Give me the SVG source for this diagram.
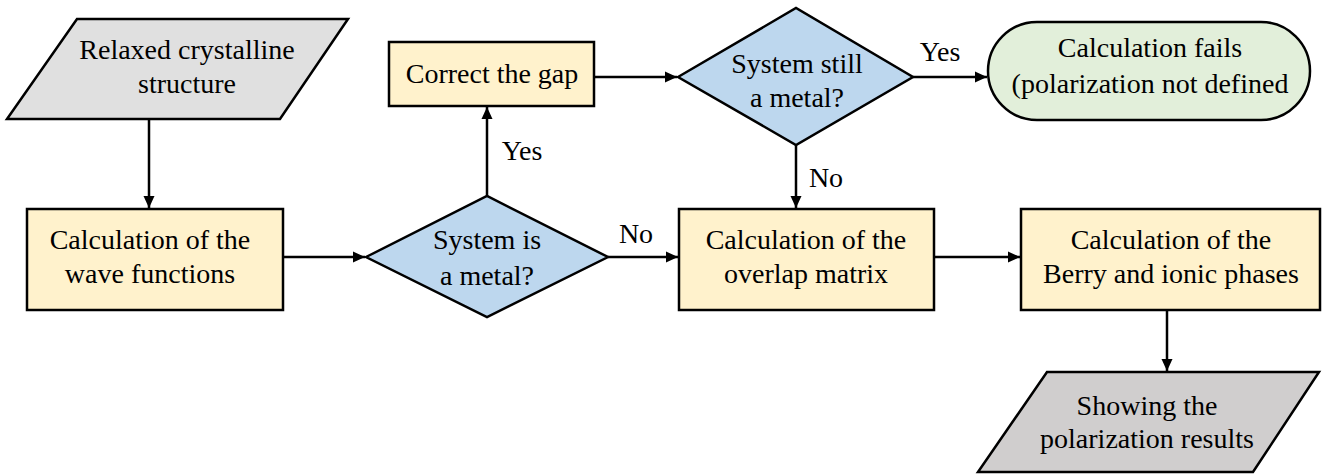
<svg xmlns="http://www.w3.org/2000/svg" width="1325" height="474" viewBox="0 0 1325 474">
<defs>
<marker id="ah" markerWidth="12" markerHeight="12" refX="12" refY="6" orient="auto" markerUnits="userSpaceOnUse" viewBox="0 0 12 12">
<path d="M0,0.5 L12,6 L0,11.5 z" fill="#000"/>
</marker>
<style>
.box{fill:#fff2cc;stroke:#000;stroke-width:2.5}
.dia{fill:#bdd7ee;stroke:#000;stroke-width:2.5}
.term{fill:#e2efda;stroke:#000;stroke-width:2.5}
.io1{fill:#e0e0e0;stroke:#000;stroke-width:2.5}
.io2{fill:#d0cece;stroke:#000;stroke-width:2.5}
.c{fill:none;stroke:#000;stroke-width:2.5;marker-end:url(#ah)}
text{font-family:'Liberation Serif','Times New Roman',serif !important;font-size:28px;text-anchor:middle;fill:#000}
</style>
</defs>
<rect width="1325" height="474" fill="#fff"/>
<g id="n-relaxed">
<polygon class="io1" points="77,19 348,19 280,119 7,119"/>
<text x="187" y="59" font-family="Liberation Serif" style="font-family:'Liberation Serif' !important">Relaxed crystalline</text>
<text x="187" y="93" font-family="Liberation Serif" style="font-family:'Liberation Serif' !important">structure</text>
</g>
<g id="n-wave">
<rect class="box" x="27" y="209" width="256" height="101"/>
<text x="150" y="249" font-family="Liberation Serif" style="font-family:'Liberation Serif' !important">Calculation of the</text>
<text x="150" y="283" font-family="Liberation Serif" style="font-family:'Liberation Serif' !important">wave functions</text>
</g>
<g id="n-metal1">
<polygon class="dia" points="366,257 487,196 608,257 487,317"/>
<text x="487" y="249" font-family="Liberation Serif" style="font-family:'Liberation Serif' !important">System is</text>
<text x="487" y="285" font-family="Liberation Serif" style="font-family:'Liberation Serif' !important">a metal?</text>
</g>
<g id="n-gap">
<rect class="box" x="389" y="42" width="205" height="64"/>
<text x="492" y="83" font-family="Liberation Serif" style="font-family:'Liberation Serif' !important">Correct the gap</text>
</g>
<g id="n-metal2">
<polygon class="dia" points="678,77 796,8 913,77 796,145"/>
<text x="797" y="73" font-family="Liberation Serif" style="font-family:'Liberation Serif' !important">System still</text>
<text x="797" y="107" font-family="Liberation Serif" style="font-family:'Liberation Serif' !important">a metal?</text>
</g>
<g id="n-fail">
<rect class="term" x="988" y="22" width="322" height="98" rx="49" ry="49"/>
<text x="1150" y="57" font-family="Liberation Serif" style="font-family:'Liberation Serif' !important">Calculation fails</text>
<text x="1150" y="93" font-family="Liberation Serif" style="font-family:'Liberation Serif' !important">(polarization not defined</text>
</g>
<g id="n-overlap">
<rect class="box" x="679" y="209" width="255" height="101"/>
<text x="806" y="249" font-family="Liberation Serif" style="font-family:'Liberation Serif' !important">Calculation of the</text>
<text x="806" y="283" font-family="Liberation Serif" style="font-family:'Liberation Serif' !important">overlap matrix</text>
</g>
<g id="n-berry">
<rect class="box" x="1021" y="209" width="299" height="101"/>
<text x="1171" y="249" font-family="Liberation Serif" style="font-family:'Liberation Serif' !important">Calculation of the</text>
<text x="1171" y="283" font-family="Liberation Serif" style="font-family:'Liberation Serif' !important">Berry and ionic phases</text>
</g>
<g id="n-show">
<polygon class="io2" points="1047,372 1319,372 1253,472 978,472"/>
<text x="1147" y="415" font-family="Liberation Serif" style="font-family:'Liberation Serif' !important">Showing the</text>
<text x="1147" y="448" font-family="Liberation Serif" style="font-family:'Liberation Serif' !important">polarization results</text>
</g>
<g id="connectors">
<line class="c" x1="149" y1="119" x2="149" y2="208"/>
<line class="c" x1="283" y1="257" x2="365" y2="257"/>
<line class="c" x1="487" y1="196" x2="487" y2="107"/>
<line class="c" x1="594" y1="77" x2="677" y2="77"/>
<line class="c" x1="913" y1="77" x2="987" y2="77"/>
<line class="c" x1="796" y1="145" x2="796" y2="208"/>
<line class="c" x1="608" y1="257" x2="678" y2="257"/>
<line class="c" x1="934" y1="257" x2="1020" y2="257"/>
<line class="c" x1="1167" y1="310" x2="1167" y2="371"/>
<text x="522" y="160" font-family="Liberation Serif" style="font-family:'Liberation Serif' !important">Yes</text>
<text x="940" y="61" font-family="Liberation Serif" style="font-family:'Liberation Serif' !important">Yes</text>
<text x="826" y="187" font-family="Liberation Serif" style="font-family:'Liberation Serif' !important">No</text>
<text x="636" y="243" font-family="Liberation Serif" style="font-family:'Liberation Serif' !important">No</text>
</g>
</svg>
